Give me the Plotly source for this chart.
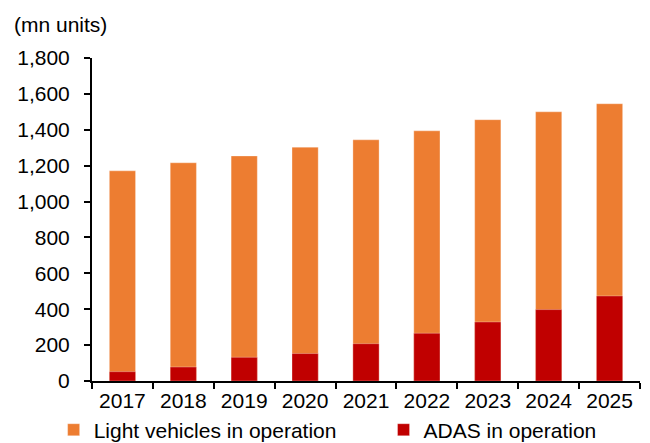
import plotly.graph_objects as go

# Vehicle fleet data (mn units)
years = ["2017", "2018", "2019", "2020", "2021", "2022", "2023", "2024", "2025"]
light_vehicles = [1171, 1216, 1254, 1303, 1344, 1394, 1456, 1500, 1545]
adas = [52, 78, 132, 153, 208, 266, 329, 398, 474]

ORANGE = "#ED7D31"
DARK_RED = "#C00000"
FONT = "Liberation Sans, Arial, sans-serif"
FS = 21

fig = go.Figure()

# Full fleet drawn first, ADAS subset overlaid on the same bar slot
fig.add_trace(go.Bar(
    x=years, y=light_vehicles, name="Light vehicles in operation",
    marker=dict(color=ORANGE, line=dict(color="rgba(255,255,255,0.6)", width=0.5)),
    legend="legend",
))
fig.add_trace(go.Bar(
    x=years, y=adas, name="ADAS in operation",
    marker=dict(color=DARK_RED, line=dict(color="rgba(255,255,255,0.6)", width=0.5)),
    legend="legend2",
))

legend_style = dict(
    orientation="h",
    y=-0.152, yanchor="middle", xanchor="left",
    font=dict(family=FONT, size=FS, color="black"),
    bgcolor="rgba(0,0,0,0)",
)

fig.update_layout(
    width=650, height=443,
    margin=dict(l=92, r=10, t=58, b=62, autoexpand=False),
    barmode="overlay",
    bargap=0.57,
    plot_bgcolor="white",
    paper_bgcolor="white",
    font=dict(family=FONT, size=FS, color="black"),
    showlegend=True,
    legend=dict(x=-0.07, **legend_style),
    legend2=dict(x=0.532, **legend_style),
    xaxis=dict(
        type="category", automargin=False,
        showline=True, linecolor="black", linewidth=2,
        ticks="outside", tickson="boundaries", ticklen=6, tickwidth=2, tickcolor="black",
        showgrid=False,
        tickfont=dict(family=FONT, size=FS, color="black"),
    ),
    yaxis=dict(
        range=[0, 1800], dtick=200, tickformat=",", automargin=False,
        showline=True, linecolor="black", linewidth=2,
        ticks="outside", ticklen=6, tickwidth=2, tickcolor="black",
        ticklabelstandoff=10,
        showgrid=False, zeroline=False,
        tickfont=dict(family=FONT, size=FS, color="black"),
    ),
    annotations=[dict(
        text="(mn units)", xref="paper", yref="paper",
        x=-0.146, y=1.105, xanchor="left", yanchor="middle",
        showarrow=False, font=dict(family=FONT, size=FS, color="black"),
    )],
)

fig.write_html("out.html")
